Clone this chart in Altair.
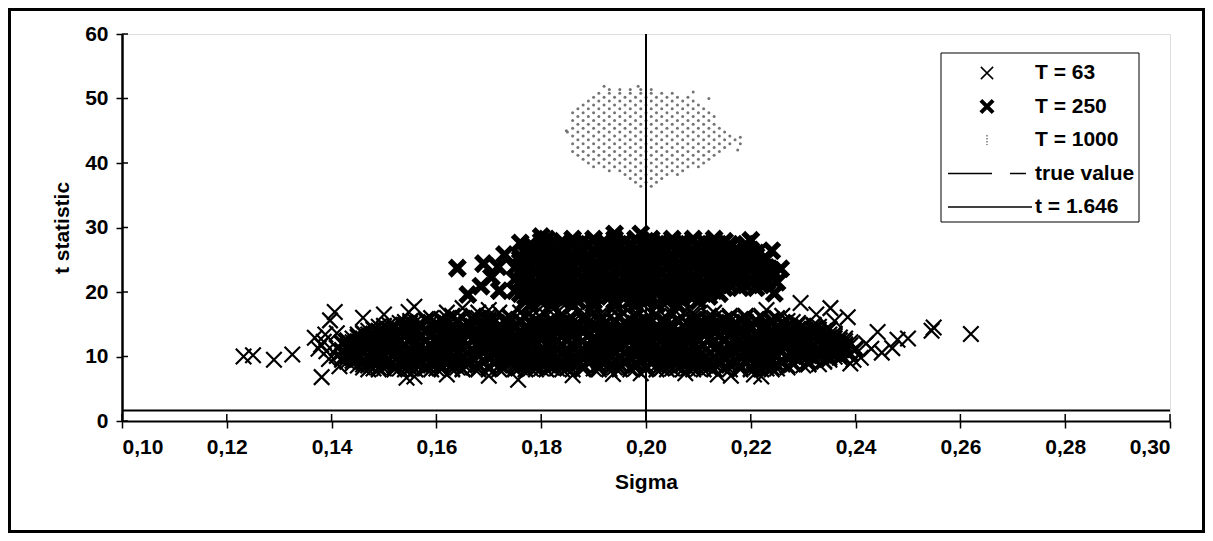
import altair as alt
import pandas as pd

# ---------------- data ----------------
X_TICKS = [0.10, 0.12, 0.14, 0.16, 0.18, 0.20, 0.22, 0.24, 0.26, 0.28, 0.30]
Y_TICKS = [0, 10, 20, 30, 40, 50, 60]
TRUE_SIGMA = 0.20
T_CRIT = 1.646
LEGEND_LABELS = ["T = 63", "T = 250", "T = 1000", "true value", "t = 1.646"]

# T = 63 : dense cloud, rows of (t statistic, [sigma in units of 0.001])
T63_ROWS = [
    (8.0, [147, 149, 152, 154, 156, 159, 161, 163, 165, 168, 170, 172, 175, 177, 179, 181, 184, 186, 188, 191, 193, 195, 197, 200, 202, 204, 207, 209, 211, 213, 216, 218, 220, 222, 224]),
    (8.15, [148, 150, 153, 155, 158, 160, 163, 165, 168, 170, 173, 175, 178, 180, 183, 185, 188, 190, 193, 195, 198, 200, 203, 205, 208, 210, 213, 215, 218, 220, 223, 225]),
    (8.3, [146, 149, 152, 155, 158, 161, 164, 167, 170, 173, 176, 179, 182, 185, 188, 191, 194, 197, 200, 203, 206, 209, 212, 215, 218, 221, 224, 227]),
    (8.6, [145, 147, 150, 152, 154, 157, 159, 161, 163, 166, 168, 170, 172, 175, 177, 179, 182, 184, 186, 188, 191, 193, 195, 198, 200, 202, 204, 207, 209, 211, 214, 216, 218, 220, 223, 225, 227, 230]),
    (8.75, [146, 148, 151, 153, 156, 158, 161, 163, 166, 168, 171, 173, 176, 178, 181, 183, 186, 188, 191, 193, 196, 198, 201, 203, 206, 208, 211, 213, 216, 218, 221, 223, 226, 228, 231]),
    (8.9, [144, 147, 150, 153, 156, 159, 162, 165, 168, 171, 174, 177, 180, 183, 186, 189, 192, 195, 198, 201, 204, 207, 210, 213, 216, 219, 222, 225, 228, 231]),
    (9.2, [143, 146, 148, 150, 153, 155, 157, 160, 162, 164, 166, 169, 171, 173, 176, 178, 180, 182, 185, 187, 189, 192, 194, 196, 198, 201, 203, 205, 208, 210, 212, 214, 217, 219, 221, 224, 226, 228, 231, 234]),
    (9.35, [144, 146, 149, 151, 154, 156, 159, 161, 164, 166, 169, 171, 174, 176, 179, 181, 184, 186, 189, 191, 194, 196, 199, 201, 204, 206, 209, 211, 214, 216, 219, 221, 224, 226, 229, 231, 234]),
    (9.5, [142, 145, 148, 151, 154, 157, 160, 163, 166, 169, 172, 175, 178, 181, 184, 187, 190, 193, 196, 199, 202, 205, 208, 211, 214, 217, 220, 223, 226, 229, 232, 235]),
    (9.8, [142, 144, 147, 149, 151, 154, 156, 158, 160, 163, 165, 167, 170, 172, 174, 176, 179, 181, 183, 186, 188, 190, 192, 195, 197, 199, 202, 204, 206, 208, 211, 213, 215, 218, 220, 222, 224, 227, 229, 232, 235, 237]),
    (9.95, [143, 145, 148, 150, 153, 155, 158, 160, 163, 165, 168, 170, 173, 175, 178, 180, 183, 185, 188, 190, 193, 195, 198, 200, 203, 205, 208, 210, 213, 215, 218, 220, 223, 225, 228, 230, 233, 236]),
    (10.1, [141, 144, 147, 150, 153, 156, 159, 162, 165, 168, 171, 174, 177, 180, 183, 186, 189, 192, 195, 198, 201, 204, 207, 210, 213, 216, 219, 222, 225, 228, 231, 234, 237]),
    (10.4, [143, 145, 148, 150, 152, 155, 157, 159, 161, 164, 166, 168, 171, 173, 175, 177, 180, 182, 184, 187, 189, 191, 193, 196, 198, 200, 203, 205, 207, 209, 212, 214, 216, 219, 221, 223, 225, 228, 230, 233, 236, 239]),
    (10.55, [144, 146, 149, 151, 154, 156, 159, 161, 164, 166, 169, 171, 174, 176, 179, 181, 184, 186, 189, 191, 194, 196, 199, 201, 204, 206, 209, 211, 214, 216, 219, 221, 224, 226, 229, 231, 234, 237, 239]),
    (10.7, [142, 145, 148, 151, 154, 157, 160, 163, 166, 169, 172, 175, 178, 181, 184, 187, 190, 193, 196, 199, 202, 205, 208, 211, 214, 217, 220, 223, 226, 229, 232, 235, 238]),
    (11.0, [142, 144, 146, 149, 151, 153, 156, 158, 160, 162, 165, 167, 169, 172, 174, 176, 178, 181, 183, 185, 188, 190, 192, 194, 197, 199, 201, 204, 206, 208, 210, 213, 215, 217, 220, 222, 224, 226, 229, 231, 234, 237, 240]),
    (11.15, [143, 145, 148, 150, 153, 155, 158, 160, 163, 165, 168, 170, 173, 175, 178, 180, 183, 185, 188, 190, 193, 195, 198, 200, 203, 205, 208, 210, 213, 215, 218, 220, 223, 225, 228, 230, 233, 235, 238]),
    (11.3, [141, 144, 147, 150, 153, 156, 159, 162, 165, 168, 171, 174, 177, 180, 183, 186, 189, 192, 195, 198, 201, 204, 207, 210, 213, 216, 219, 222, 225, 228, 231, 234, 237, 240]),
    (11.6, [143, 145, 147, 150, 152, 154, 157, 159, 161, 163, 166, 168, 170, 173, 175, 177, 179, 182, 184, 186, 189, 191, 193, 195, 198, 200, 202, 205, 207, 209, 211, 214, 216, 218, 221, 223, 225, 227, 230, 232, 235, 238]),
    (11.75, [144, 146, 149, 151, 154, 156, 159, 161, 164, 166, 169, 171, 174, 176, 179, 181, 184, 186, 189, 191, 194, 196, 199, 201, 204, 206, 209, 211, 214, 216, 219, 221, 224, 226, 229, 231, 234, 236, 239]),
    (11.9, [142, 145, 148, 151, 154, 157, 160, 163, 166, 169, 172, 175, 178, 181, 184, 187, 190, 193, 196, 199, 202, 205, 208, 211, 214, 217, 220, 223, 226, 229, 232, 235, 238]),
    (12.2, [142, 144, 146, 149, 151, 153, 156, 158, 160, 162, 165, 167, 169, 172, 174, 176, 178, 181, 183, 185, 188, 190, 192, 194, 197, 199, 201, 204, 206, 208, 210, 213, 215, 217, 220, 222, 224, 226, 229, 231, 234, 236, 239]),
    (12.35, [143, 145, 148, 150, 153, 155, 158, 160, 163, 165, 168, 170, 173, 175, 178, 180, 183, 185, 188, 190, 193, 195, 198, 200, 203, 205, 208, 210, 213, 215, 218, 220, 223, 225, 228, 230, 233, 235, 238]),
    (12.5, [143, 146, 149, 152, 155, 158, 161, 164, 167, 170, 173, 176, 179, 182, 185, 188, 191, 194, 197, 200, 203, 206, 209, 212, 215, 218, 221, 224, 227, 230, 233, 237]),
    (12.8, [144, 146, 148, 151, 153, 155, 158, 160, 162, 164, 167, 169, 171, 174, 176, 178, 180, 183, 185, 187, 190, 192, 194, 196, 199, 201, 203, 206, 208, 210, 212, 215, 217, 219, 222, 224, 226, 228, 231, 233, 236, 238]),
    (12.95, [145, 147, 150, 152, 155, 157, 160, 162, 165, 167, 170, 172, 175, 177, 180, 182, 185, 187, 190, 192, 195, 197, 200, 202, 205, 207, 210, 212, 215, 217, 220, 222, 225, 227, 230, 232, 235, 237]),
    (13.1, [145, 148, 151, 154, 157, 160, 163, 166, 169, 172, 175, 178, 181, 184, 187, 190, 193, 196, 199, 202, 205, 208, 211, 214, 217, 220, 223, 226, 229, 232, 236]),
    (13.4, [145, 147, 150, 152, 154, 157, 159, 161, 163, 166, 168, 170, 173, 175, 177, 179, 182, 184, 186, 189, 191, 193, 195, 198, 200, 202, 205, 207, 209, 211, 214, 216, 218, 221, 223, 225, 227, 230, 232, 235]),
    (13.55, [146, 148, 151, 153, 156, 158, 161, 163, 166, 168, 171, 173, 176, 178, 181, 183, 186, 188, 191, 193, 196, 198, 201, 203, 206, 208, 211, 213, 216, 218, 221, 223, 226, 228, 231, 233, 236]),
    (13.7, [146, 149, 152, 155, 158, 161, 164, 167, 170, 173, 176, 179, 182, 185, 188, 191, 194, 197, 200, 203, 206, 209, 212, 215, 218, 221, 224, 227, 230, 233]),
    (14.0, [147, 149, 151, 154, 156, 158, 161, 163, 165, 167, 170, 172, 174, 177, 179, 181, 183, 186, 188, 190, 193, 195, 197, 199, 202, 204, 206, 209, 211, 213, 215, 218, 220, 222, 225, 227, 229, 232, 234]),
    (14.15, [148, 150, 153, 155, 158, 160, 163, 165, 168, 170, 173, 175, 178, 180, 183, 185, 188, 190, 193, 195, 198, 200, 203, 205, 208, 210, 213, 215, 218, 220, 223, 225, 228, 230, 233, 235]),
    (14.3, [148, 151, 154, 157, 160, 163, 166, 169, 172, 175, 178, 181, 184, 187, 190, 193, 196, 199, 202, 205, 208, 211, 214, 217, 220, 223, 226, 229, 232, 235]),
    (14.6, [149, 152, 154, 156, 159, 161, 163, 165, 168, 170, 172, 175, 177, 179, 181, 184, 186, 188, 191, 193, 195, 197, 200, 202, 204, 207, 209, 211, 213, 216, 218, 220, 223, 225, 227, 230, 233]),
    (14.75, [150, 152, 155, 157, 160, 162, 165, 167, 170, 172, 175, 177, 180, 182, 185, 187, 190, 192, 195, 197, 200, 202, 205, 207, 210, 212, 215, 217, 220, 222, 225, 227, 230, 232]),
    (14.9, [151, 154, 157, 160, 163, 166, 169, 172, 175, 178, 181, 184, 187, 190, 193, 196, 199, 202, 205, 208, 211, 214, 217, 220, 223, 226, 229, 232]),
    (15.2, [153, 155, 157, 160, 162, 164, 166, 169, 171, 173, 176, 178, 180, 182, 185, 187, 189, 192, 194, 196, 198, 201, 203, 205, 208, 210, 212, 214, 217, 219, 221, 224, 226, 229]),
    (15.35, [154, 156, 159, 161, 164, 166, 169, 171, 174, 176, 179, 181, 184, 186, 189, 191, 194, 196, 199, 201, 204, 206, 209, 211, 214, 216, 219, 221, 224, 226, 228]),
    (15.5, [155, 158, 161, 164, 167, 170, 173, 176, 179, 182, 185, 188, 191, 194, 197, 200, 203, 206, 209, 212, 215, 218, 221, 224, 227]),
    (15.8, [158, 161, 164, 167, 170, 173, 176, 179, 182, 185, 188, 191, 194, 197, 200, 203, 206, 209, 212, 215, 218, 221, 224]),
    (15.95, [159, 162, 165, 168, 171, 174, 177, 180, 183, 186, 189, 192, 195, 198, 201, 204, 207, 210, 213, 216, 219, 222, 225]),
    (16.3, [163, 167, 170, 174, 177, 181, 184, 188, 191, 195, 198, 202, 205, 209, 212, 216, 219, 222]),
    (16.8, [168, 172, 176, 179, 183, 187, 190, 194, 198, 201, 205, 209, 213]),
]
# T = 63 : single crosses outside the dense cloud (sigma, t)
T63_SCATTER = [
    (0.1232, 10.0), (0.1250, 10.2), (0.1290, 9.5), (0.1325, 10.3),
    (0.1381, 6.8), (0.1368, 12.9), (0.1380, 11.8), (0.1385, 12.3), (0.1390, 10.8),
    (0.1395, 9.6), (0.1397, 15.6), (0.1406, 16.9), (0.1410, 13.6), (0.1415, 8.5),
    (0.1375, 11.2), (0.1388, 13.4),
    (0.1543, 6.7), (0.1558, 6.9), (0.1756, 6.4), (0.1620, 7.2), (0.1700, 7.0),
    (0.1860, 7.1), (0.1937, 7.3), (0.1990, 7.4), (0.2075, 7.4), (0.2137, 7.2),
    (0.2162, 7.0), (0.2206, 7.2), (0.2220, 6.9),
    (0.1460, 16.0), (0.1500, 16.5), (0.1547, 16.9), (0.1558, 17.7), (0.1620, 16.8),
    (0.1650, 17.5), (0.1700, 17.2), (0.2230, 17.2), (0.2260, 16.3), (0.2295, 18.3),
    (0.2325, 16.5), (0.2352, 17.5), (0.2385, 16.1), (0.2360, 15.5),
    (0.2442, 13.8), (0.2480, 12.6), (0.2500, 12.8), (0.2470, 11.3), (0.2450, 10.6),
    (0.2430, 11.2), (0.2410, 9.8), (0.2396, 9.5), (0.2375, 10.0), (0.2420, 12.0),
    (0.2330, 8.8), (0.2390, 8.9), (0.2549, 14.5), (0.2545, 14.0), (0.2620, 13.5),
]

# T = 250 : dense cloud, rows of (t statistic, [sigma in units of 0.001])
T250_ROWS = [
    (18.0, [178, 182, 186, 190, 194, 198, 202, 206]),
    (18.6, [177, 180, 184, 187, 190, 194, 197, 200, 204, 207, 210]),
    (19.3, [177, 180, 182, 185, 188, 190, 193, 196, 198, 201, 204, 206, 209, 212]),
    (19.75, [176, 179, 183, 186, 189, 192, 195, 199, 202, 205, 208, 211, 214]),
    (20.2, [175, 178, 181, 183, 186, 189, 191, 194, 197, 199, 202, 205, 207, 210, 213]),
    (20.65, [177, 180, 183, 186, 190, 193, 196, 199, 202, 206, 209, 212, 215, 218, 221]),
    (21.1, [176, 179, 182, 184, 187, 190, 192, 195, 198, 200, 203, 206, 208, 211, 214, 216, 219, 222]),
    (21.55, [176, 179, 182, 185, 189, 192, 195, 198, 201, 205, 208, 211, 214, 217, 220, 223]),
    (22.0, [175, 177, 180, 183, 185, 188, 191, 193, 196, 199, 201, 204, 207, 209, 212, 215, 217, 220, 223]),
    (22.45, [177, 180, 183, 186, 190, 193, 196, 199, 202, 206, 209, 212, 215, 218, 222]),
    (22.9, [176, 179, 181, 184, 187, 189, 192, 195, 197, 200, 203, 205, 208, 211, 213, 216, 219, 221, 224]),
    (23.35, [176, 179, 182, 185, 189, 192, 195, 198, 201, 205, 208, 211, 214, 217, 220, 224]),
    (23.8, [175, 177, 180, 183, 185, 188, 191, 193, 196, 199, 201, 204, 207, 209, 212, 215, 217, 220, 223]),
    (24.25, [177, 180, 183, 186, 190, 193, 196, 199, 202, 206, 209, 212, 215, 218, 221]),
    (24.7, [176, 179, 181, 184, 187, 189, 192, 195, 197, 200, 203, 205, 208, 211, 213, 216, 219, 222]),
    (25.15, [176, 179, 182, 185, 189, 192, 195, 198, 201, 205, 208, 211, 214, 217, 220, 223]),
    (25.6, [176, 178, 181, 184, 186, 189, 192, 194, 197, 200, 202, 205, 208, 210, 213, 216, 218, 221]),
    (26.05, [177, 180, 183, 186, 190, 193, 196, 199, 202, 206, 209, 212, 215, 218, 221]),
    (26.5, [177, 180, 182, 185, 188, 190, 193, 196, 198, 201, 204, 206, 209, 212, 214, 217, 220]),
    (26.95, [178, 181, 184, 187, 191, 194, 197, 200, 203, 207, 210, 213, 216, 219]),
    (27.4, [178, 181, 184, 186, 189, 192, 194, 197, 200, 202, 205, 208, 210, 213, 216, 219]),
    (27.85, [180, 184, 188, 192, 196, 200, 203, 207, 211, 215]),
    (28.2, [181, 186, 190, 194, 198, 201, 205, 209, 213]),
]
T250_SCATTER = [
    (0.1640, 23.7), (0.1660, 19.6), (0.1685, 20.9), (0.1690, 24.4), (0.1705, 22.3),
    (0.1718, 23.9), (0.1720, 20.2), (0.1730, 25.8), (0.2245, 19.8), (0.2257, 23.6),
    (0.2240, 26.4), (0.2250, 21.5), (0.2200, 28.0), (0.1760, 27.6), (0.1800, 28.6),
    (0.1940, 29.0), (0.1990, 29.0),
]

# T = 1000 : grey stipple cloud, rows of (t statistic, [sigma in units of 0.001])
T1000_ROWS = [
    (51.4, [193, 195, 197, 199, 201]),
    (50.8, [191, 193, 195, 197, 199, 201, 203, 205]),
    (50.2, [190, 192, 194, 196, 198, 200, 202, 204, 206, 208]),
    (49.6, [189, 191, 193, 195, 197, 199, 201, 203, 205, 207, 209]),
    (49.0, [188, 190, 192, 194, 196, 198, 200, 202, 204, 206, 208, 210]),
    (48.4, [187, 189, 191, 193, 195, 197, 199, 201, 203, 205, 207, 209, 211]),
    (47.8, [186, 188, 190, 192, 194, 196, 198, 200, 202, 204, 206, 208, 210, 212]),
    (47.2, [187, 189, 191, 193, 195, 197, 199, 201, 203, 205, 207, 209, 211, 213]),
    (46.6, [186, 188, 190, 192, 194, 196, 198, 200, 202, 204, 206, 208, 210, 212]),
    (46.0, [187, 189, 191, 193, 195, 197, 199, 201, 203, 205, 207, 209, 211, 213]),
    (45.4, [186, 188, 190, 192, 194, 196, 198, 200, 202, 204, 206, 208, 210, 212, 214]),
    (44.8, [185, 187, 189, 191, 193, 195, 197, 199, 201, 203, 205, 207, 209, 211, 213, 215]),
    (44.2, [186, 188, 190, 192, 194, 196, 198, 200, 202, 204, 206, 208, 210, 212, 214, 216]),
    (43.6, [187, 189, 191, 193, 195, 197, 199, 201, 203, 205, 207, 209, 211, 213, 215, 217]),
    (43.0, [186, 188, 190, 192, 194, 196, 198, 200, 202, 204, 206, 208, 210, 212, 214, 216, 218]),
    (42.4, [187, 189, 191, 193, 195, 197, 199, 201, 203, 205, 207, 209, 211, 213, 215]),
    (41.8, [186, 188, 190, 192, 194, 196, 198, 200, 202, 204, 206, 208, 210, 212, 214]),
    (41.2, [187, 189, 191, 193, 195, 197, 199, 201, 203, 205, 207, 209, 211, 213]),
    (40.6, [188, 190, 192, 194, 196, 198, 200, 202, 204, 206, 208, 210, 212]),
    (40.0, [189, 191, 193, 195, 197, 199, 201, 203, 205, 207, 209, 211]),
    (39.4, [190, 192, 194, 196, 198, 200, 202, 204, 206, 208, 210]),
    (38.8, [193, 195, 197, 199, 201, 203, 205, 207]),
    (38.2, [196, 198, 200, 202, 204, 206]),
    (37.6, [197, 199, 201, 203]),
    (37.0, [198, 200, 202]),
    (36.4, [199, 201]),
]
T1000_SCATTER = [
    (0.2180, 44.0), (0.2175, 42.0), (0.1848, 45.0),
    (0.2090, 51.0), (0.2120, 50.0), (0.1920, 51.9), (0.1985, 51.9),
]


def cloud(rows, scatter):
    pts = [(s / 1000.0, t) for t, sig in rows for s in sig] + list(scatter)
    return pd.DataFrame(pts, columns=["sigma", "t"])


d63 = cloud(T63_ROWS, T63_SCATTER)
d250 = cloud(T250_ROWS, T250_SCATTER)
d1000 = cloud(T1000_ROWS, T1000_SCATTER)

# ---------------- layout / style ----------------
FONT = "Liberation Sans"
FS = 21
PW, PH = 1048, 387
XPATH = "M-1,-1L1,1M-1,1L1,-1"

X = alt.X(
    "sigma:Q",
    scale=alt.Scale(domain=[0.10, 0.30], nice=False, zero=False),
    axis=alt.Axis(
        values=X_TICKS, labelExpr="replace(format(datum.value, '.2f'), '.', ',')",
        grid=False, domainColor="black", domainWidth=2, tickColor="black",
        tickWidth=1.5, tickSize=7, labelFont=FONT, labelFontSize=FS,
        labelFontWeight="bold", labelColor="black", labelPadding=8,
        titleFont=FONT, titleFontSize=FS, titleFontWeight="bold",
        titleColor="black", titlePadding=14,
    ),
    title="Sigma",
)
Y = alt.Y(
    "t:Q",
    scale=alt.Scale(domain=[0, 60], nice=False),
    axis=alt.Axis(
        values=Y_TICKS, format="d", grid=False, domainColor="black",
        domainWidth=2.5, tickColor="black", tickWidth=1.5, tickSize=6,
        labelFont=FONT, labelFontSize=FS, labelFontWeight="bold",
        labelColor="black", labelPadding=8, titleFont=FONT, titleFontSize=FS,
        titleFontWeight="bold", titleColor="black", titlePadding=12,
    ),
    title="t statistic",
)

crit = alt.Chart(pd.DataFrame({"t": [T_CRIT]})).mark_rule(
    color="black", strokeWidth=2).encode(y=Y)

p63 = alt.Chart(d63).mark_point(
    shape=XPATH, filled=False, size=240, strokeWidth=2.2, color="black",
    opacity=1).encode(x=X, y=Y)
p250 = alt.Chart(d250).mark_point(
    shape=XPATH, filled=False, size=230, strokeWidth=5.5, color="black",
    opacity=1).encode(x=X, y=Y)
p1000 = alt.Chart(d1000).mark_circle(
    size=9, color="#747474", opacity=1).encode(x=X, y=Y)

true_line = alt.Chart(pd.DataFrame({"sigma": [TRUE_SIGMA]})).mark_rule(
    color="black", strokeWidth=2).encode(x=X)

# inward halves of the crossing tick marks
xin = alt.Chart(pd.DataFrame({"sigma": X_TICKS})).mark_rule(
    color="black", strokeWidth=1.5).encode(
    x=X, y=alt.value(PH - 7), y2=alt.value(PH))
yin = alt.Chart(pd.DataFrame({"t": Y_TICKS})).mark_rule(
    color="black", strokeWidth=1.5).encode(
    y=Y, x=alt.value(0), x2=alt.value(6))

# ---------------- legend ----------------
one = pd.DataFrame({"a": [0]})
LX0, LX1, LY0, LY1 = 819, 1017, 19, 188
SYM_X, TXT_X, LINE_X0, LINE_X1 = 865, 913, 826, 910
ROW_Y = [LY0 + 20 + 33.5 * i for i in range(len(LEGEND_LABELS))]

legend_layers = [
    alt.Chart(one).mark_rect(fill="white", stroke="black", strokeWidth=1).encode(
        x=alt.value(LX0), x2=alt.value(LX1), y=alt.value(LY0), y2=alt.value(LY1)),
    alt.Chart(one).mark_point(shape=XPATH, filled=False, size=150, strokeWidth=1.5,
                              color="black", opacity=1).encode(
        x=alt.value(SYM_X), y=alt.value(ROW_Y[0])),
    alt.Chart(one).mark_point(shape=XPATH, filled=False, size=150, strokeWidth=4,
                              color="black", opacity=1).encode(
        x=alt.value(SYM_X), y=alt.value(ROW_Y[1])),
    alt.Chart(one).mark_point(shape="M0,-1L0,1", filled=False, size=100, strokeWidth=1.5,
                              strokeDash=[1.5, 1.5], color="#777777", opacity=1).encode(
        x=alt.value(SYM_X), y=alt.value(ROW_Y[2])),
    alt.Chart(one).mark_rule(color="black", strokeWidth=1.5, strokeDash=[44, 18]).encode(
        x=alt.value(LINE_X0), x2=alt.value(LINE_X1 - 6), y=alt.value(ROW_Y[3])),
    alt.Chart(one).mark_rule(color="black", strokeWidth=1.5).encode(
        x=alt.value(LINE_X0), x2=alt.value(LINE_X1), y=alt.value(ROW_Y[4])),
]
for i, lab in enumerate(LEGEND_LABELS):
    legend_layers.append(
        alt.Chart(pd.DataFrame({"label": [lab]})).mark_text(
            align="left", baseline="middle", font=FONT, fontSize=FS,
            fontWeight="bold", color="black").encode(
            text="label:N", x=alt.value(TXT_X), y=alt.value(ROW_Y[i])))

# outer frame around the whole figure
frame = alt.Chart(one).mark_rect(fillOpacity=0, stroke="black", strokeWidth=3).encode(
    x=alt.value(-112.5), x2=alt.value(1081.5), y=alt.value(-24.5), y2=alt.value(497.5))

chart = alt.layer(
    crit, p63, p250, p1000, true_line, xin, yin, *legend_layers, frame
).properties(
    width=PW, height=PH,
    autosize=alt.AutoSizeParams(type="none"),
    padding={"left": 114, "top": 26, "right": 35, "bottom": 112},
).configure_view(stroke="black", strokeWidth=1.5).configure(background="white")

chart.save("out.html", embed_options={"renderer": "svg", "actions": False})
